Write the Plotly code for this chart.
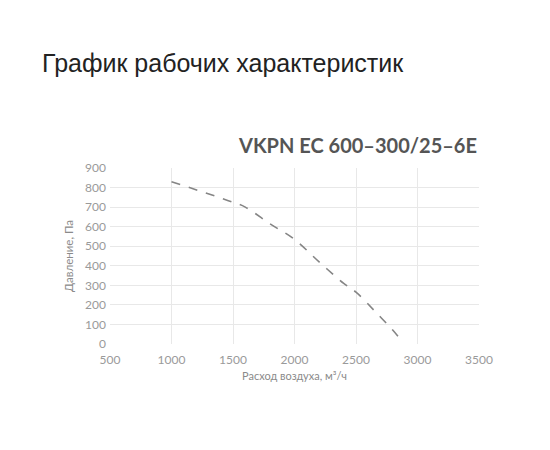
import plotly.graph_objects as go

# airflow, m3/h and pressure, Pa
airflow = [1000, 1500, 1600, 1800, 2000, 2200, 2400, 2500, 2650, 2800, 2880]
pressure = [830, 725, 700, 615, 535, 420, 310, 265, 170, 70, 10]

x_ticks = [500, 1000, 1500, 2000, 2500, 3000, 3500]
y_ticks = [0, 100, 200, 300, 400, 500, 600, 700, 800, 900]

fig = go.Figure()
fig.add_trace(go.Scatter(
    x=airflow, y=pressure, mode='lines',
    line=dict(color='#858585', width=1.6, dash='dash', shape='spline'),
    showlegend=False, hoverinfo='skip'
))

fig.update_layout(
    width=550, height=450,
    margin=dict(l=102, r=79, t=160, b=114),
    paper_bgcolor='white', plot_bgcolor='white',
    font=dict(family='Lato, DejaVu Sans, sans-serif', color='#9a9a9a', size=12),
    xaxis=dict(range=[500, 3500], tickvals=x_ticks, showgrid=True, gridcolor='#e8e8e8',
               zeroline=False, showline=False, ticks='', ticklabelstandoff=7,
               tickfont=dict(size=12, color='#9a9a9a'),
               title=dict(text='Расход воздуха, м³/ч', font=dict(size=11, color='#8a8a8a'), standoff=6)),
    yaxis=dict(range=[0, 900], tickvals=y_ticks, showgrid=True, gridcolor='#e8e8e8',
               zeroline=False, showline=False, ticks='', ticklabelstandoff=3,
               tickfont=dict(size=12, color='#9a9a9a'),
               title=dict(text='Давление, Па', font=dict(size=11.5, color='#8a8a8a'), standoff=9)),
)

fig.add_annotation(text='График рабочих характеристик', xref='paper', yref='paper',
                   x=-70 / 369, y=1 + 105 / 176, xanchor='left', yanchor='middle', showarrow=False,
                   font=dict(family='Liberation Sans, Arial, sans-serif', size=25, color='#222222'))
fig.add_annotation(text='<b>VKPN EC 600–300/25–6E</b>', xref='paper', yref='paper',
                   x=1, y=1 + 23 / 176, xanchor='right', yanchor='middle', showarrow=False,
                   font=dict(family='Lato, sans-serif', size=20, color='#555555'))

fig.write_html("out.html")
